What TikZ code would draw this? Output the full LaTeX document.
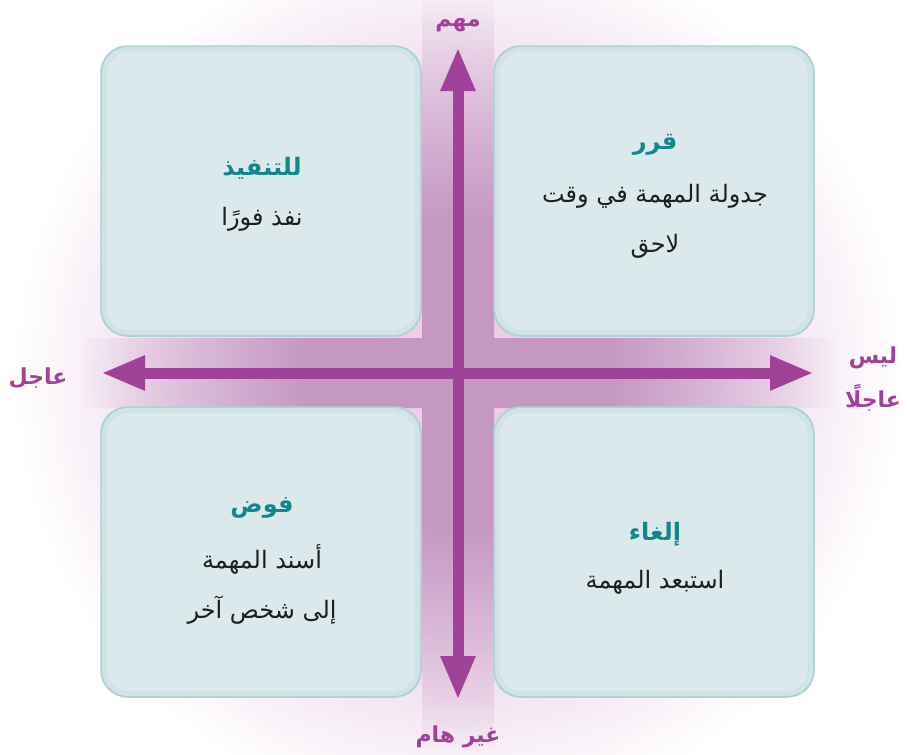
\documentclass[tikz,border=0pt]{standalone}
\usepackage{fontspec}
\newfontfamily\arabicfont[Script=Arabic]{DejaVu Sans}
\TeXXeTstate=1
\usetikzlibrary{arrows.meta,fadings}
\definecolor{axispurple}{RGB}{160,66,152}
\definecolor{titleteal}{RGB}{18,136,138}
\definecolor{boxfill}{RGB}{219,233,237}
\definecolor{boxedge}{RGB}{176,210,213}
\definecolor{boxrim}{RGB}{208,228,231}
\definecolor{bandpurple}{RGB}{197,152,196}
\definecolor{bgpinkA}{RGB}{232,202,228}
\definecolor{bgpinkB}{RGB}{243,228,241}
\definecolor{bodytext}{RGB}{30,30,30}
\pgfdeclareradialshading{bandmask}{\pgfpoint{0bp}{0bp}}{color(0bp)=(transparent!0); color(10bp)=(transparent!0); color(25bp)=(transparent!100); color(50bp)=(transparent!100)}
\pgfdeclarefading{bandfade}{\pgfuseshading{bandmask}}
\pgfdeclareradialshading{bgshade}{\pgfpoint{0bp}{0bp}}{color(0bp)=(bgpinkA); color(18bp)=(bgpinkB); color(25bp)=(white); color(50bp)=(white)}
\begin{document}
\begin{tikzpicture}[x=1pt,y=-1pt,
  quad/.style={rounded corners=26pt, fill=boxfill, draw=boxedge, line width=2.5pt, minimum width=319pt, minimum height=289pt, inner sep=0pt},
  quadrim/.style={rounded corners=24pt, draw=boxrim, line width=5pt, minimum width=313pt, minimum height=283pt, inner sep=0pt},
  axislabel/.style={text=axispurple, font=\arabicfont\bfseries\fontsize{22}{44}\selectfont, align=center, inner sep=0pt},
  qtitle/.style={text=titleteal, font=\arabicfont\bfseries\fontsize{24}{28}\selectfont, inner sep=0pt},
  qbody/.style={text=bodytext, font=\arabicfont\fontsize{24}{50}\selectfont, align=center, inner sep=0pt},
  axisarrow/.style={draw=axispurple, line width=11pt, {Triangle[width=32pt,length=44pt]}-{Triangle[width=32pt,length=44pt]}}
]
\useasboundingbox (0,0) rectangle (908,755);
% background glow
\shade[shading=bgshade] (458,375) circle (445pt);
% cross band
\begin{scope}
  \clip (0,338) rectangle (908,408) (422,0) rectangle (494,755);
  \fill[bandpurple, path fading=bandfade] (458,373) circle (380pt);
\end{scope}
% quadrants
\node[quad] (tl) at (261,191) {};
\node[quad] (tr) at (654,191) {};
\node[quad] (bl) at (261,552) {};
\node[quad] (br) at (654,552) {};
\node[quadrim] (tlrim) at (tl.center) {};
\node[quadrim] (trrim) at (tr.center) {};
\node[quadrim] (blrim) at (bl.center) {};
\node[quadrim] (brrim) at (br.center) {};
% axes
\coordinate (up) at (458,47);
\coordinate (down) at (458,700);
\coordinate (left) at (101,373);
\coordinate (right) at (814,373);
\draw[axisarrow] (down) -- (up);
\draw[axisarrow] (left) -- (right);
% axis labels
\node[axislabel] (lup) at (458,25) {\beginR مهم\endR};
\node[axislabel] (ldown) at (458,737) {\beginR غير هام\endR};
\node[axislabel] (lleft) at (38,378) {\beginR عاجل\endR};
\node[axislabel] (lright) at (873,379) {\beginR ليس\endR\\\beginR عاجلًا\endR};
% quadrant texts
\node[qtitle] (t1) at (262,168) {\beginR للتنفيذ\endR};
\node[qbody] (b1) at (262,219) {\beginR نفذ فورًا\endR};
\node[qtitle] (t2) at (655,145) {\beginR قرر\endR};
\node[qbody] (b2) at (655,221) {\beginR جدولة المهمة في وقت\endR\\\beginR لاحق\endR};
\node[qtitle] (t3) at (262,508) {\beginR فوض\endR};
\node[qbody] (b3) at (262,584) {\beginR أسند المهمة\endR\\\beginR إلى شخص آخر\endR};
\node[qtitle] (t4) at (655,534) {\beginR إلغاء\endR};
\node[qbody] (b4) at (655,582) {\beginR استبعد المهمة\endR};
\end{tikzpicture}
\end{document}
